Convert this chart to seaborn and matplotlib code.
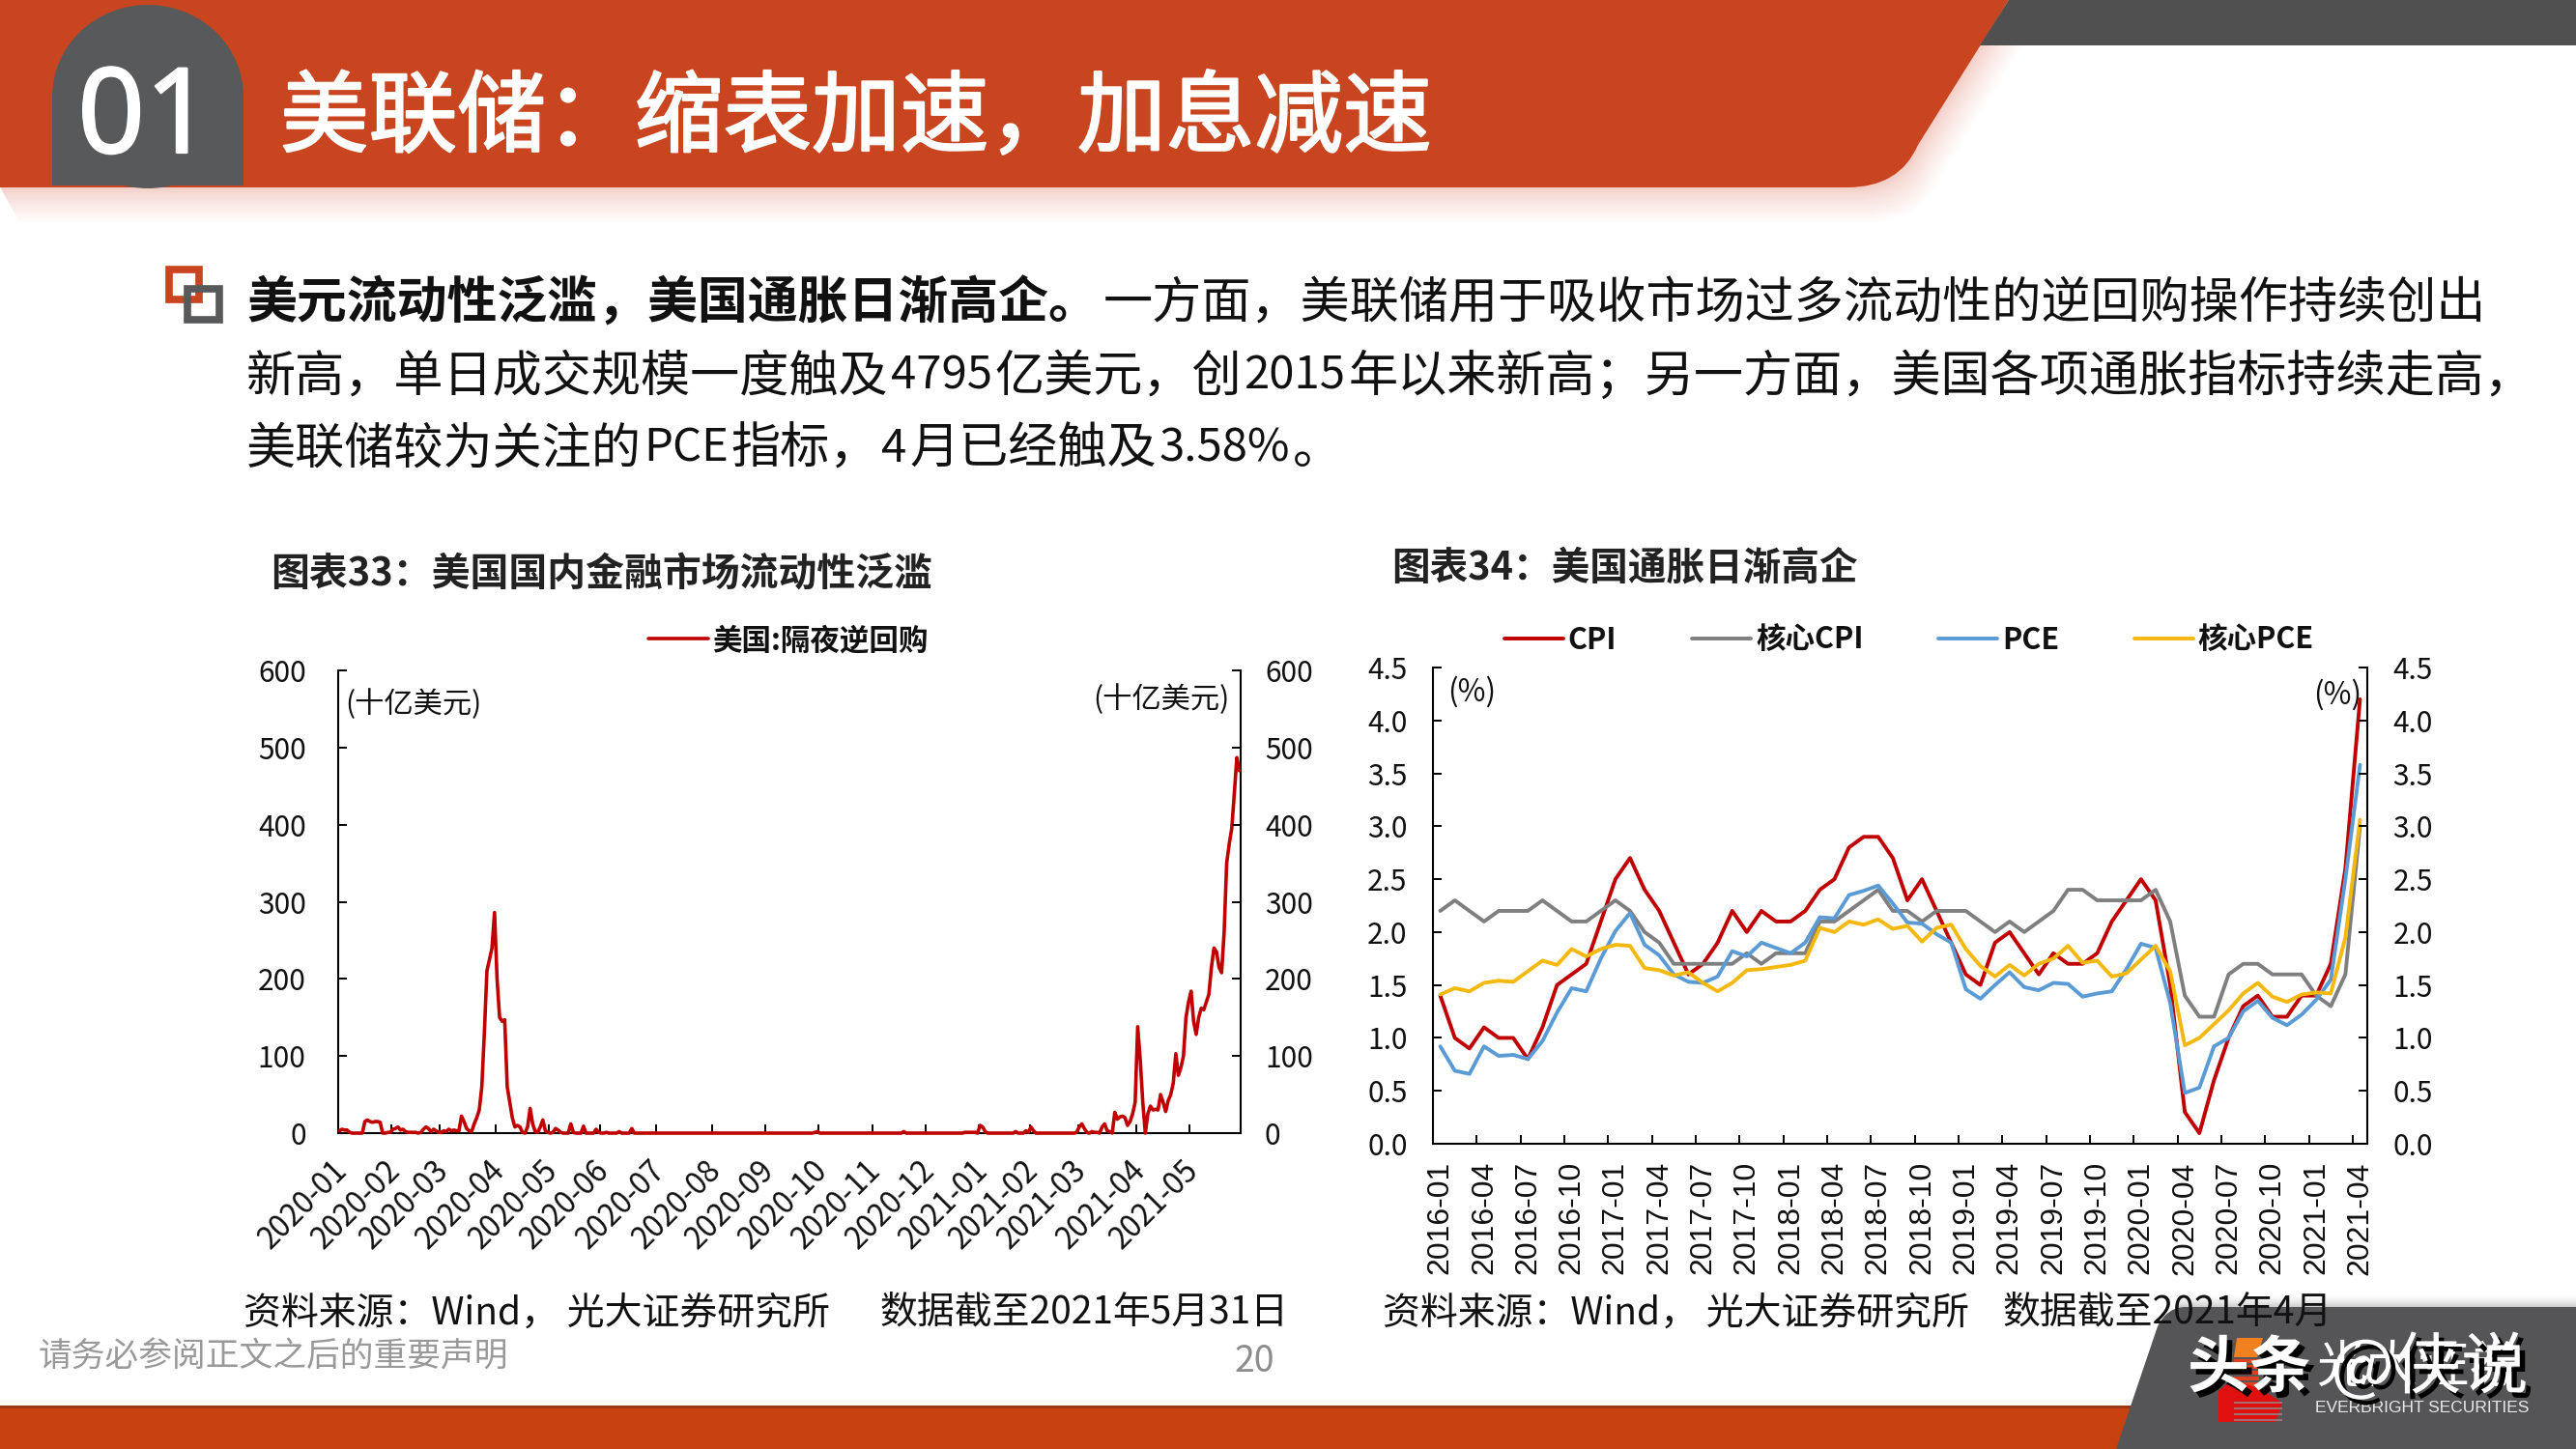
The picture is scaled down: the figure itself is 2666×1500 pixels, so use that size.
import re
import matplotlib
matplotlib.use("Agg")
import matplotlib.pyplot as plt
import seaborn as sns
import pandas as pd
from matplotlib.patches import Rectangle, Ellipse, Polygon, PathPatch
from matplotlib.path import Path
from matplotlib.transforms import ScaledTranslation
import matplotlib.patheffects as pe

# ---------- data ----------
rrp_month_labels = ["2020-01","2020-02","2020-03","2020-04","2020-05","2020-06","2020-07","2020-08","2020-09",
                    "2020-10","2020-11","2020-12","2021-01","2021-02","2021-03","2021-04","2021-05"]
rrp_2020_01 = [3,5,4,4,1,0,0,0,0,0,15,17,15,14,15,15,14,0,0,1,1]
rrp_2020_02 = [5,6,8,4,5,2,1,1,1,1,0,1,5,8,6,2,5,3,1]
rrp_2020_03 = [1,3,2,5,3,4,3,3,22,15,6,3,2,12,20,30,60,130,210,225,240,286]
rrp_2020_04 = [200,150,145,147,60,40,20,8,10,8,1,0,8,32,12,2,1,8,17,3,1]
rrp_2020_05 = [0,1,6,4,1,0,0,0,12,1,0,0,0,9,0,0,0,0,5,1]
rrp_2020_06 = [0,0,1,0,0,0,0,2,0,0,0,0,6,0,0,0,0,0,0,0,0,0]
rrp_2020_07 = [0,0,0,0,0,0,0,0,0,0,0,0,0,0,0,0,0,0,0,0,0,0]
rrp_2020_08 = [0,0,0,0,0,0,0,0,0,0,0,0,0,0,0,0,0,0,0,0,0]
rrp_2020_09 = [0,0,0,0,0,0,0,0,0,0,0,0,0,0,0,0,0,0,0,1,2]
rrp_2020_10 = [0,0,0,0,0,0,0,0,0,0,0,0,0,0,0,0,0,0,0,0,0]
rrp_2020_11 = [0,0,0,0,0,0,0,0,0,0,0,0,2,0,0,0,0,0,0,0,0]
rrp_2020_12 = [0,0,0,0,0,0,0,0,0,0,0,0,0,0,0,1,1,1,1,1,0]
rrp_2021_01 = [10,8,2,0,0,0,0,0,0,0,0,0,0,0,2,0,0,0,3,1]
rrp_2021_02 = [8,3,0,0,0,0,0,0,0,0,0,0,0,0,0,0,0,0,1]
rrp_2021_03 = [8,12,6,1,0,2,1,1,0,8,12,3,2,0,27,18,21,22,20,10,15,25,40]
rrp_2021_04 = [138,95,40,0,25,35,30,31,30,50,40,28,42,50,65,103,75,85,100,150,170]
rrp_2021_05 = [184,145,128,150,162,160,170,180,215,240,235,215,208,260,350,375,395,440,487,470]
rrp_months = [rrp_2020_01,rrp_2020_02,rrp_2020_03,rrp_2020_04,rrp_2020_05,rrp_2020_06,rrp_2020_07,rrp_2020_08,
              rrp_2020_09,rrp_2020_10,rrp_2020_11,rrp_2020_12,rrp_2021_01,rrp_2021_02,rrp_2021_03,rrp_2021_04,rrp_2021_05]

cpi = [1.4,1.0,0.9,1.1,1.0,1.0,0.8,1.1,1.5,1.6,1.7,2.1,
       2.5,2.7,2.4,2.2,1.9,1.6,1.7,1.9,2.2,2.0,2.2,2.1,
       2.1,2.2,2.4,2.5,2.8,2.9,2.9,2.7,2.3,2.5,2.2,1.9,
       1.6,1.5,1.9,2.0,1.8,1.6,1.8,1.7,1.7,1.8,2.1,2.3,
       2.5,2.3,1.5,0.3,0.1,0.6,1.0,1.3,1.4,1.2,1.2,1.4,
       1.4,1.7,2.6,4.2]
core_cpi = [2.2,2.3,2.2,2.1,2.2,2.2,2.2,2.3,2.2,2.1,2.1,2.2,
            2.3,2.2,2.0,1.9,1.7,1.7,1.7,1.7,1.7,1.8,1.7,1.8,
            1.8,1.8,2.1,2.1,2.2,2.3,2.4,2.2,2.2,2.1,2.2,2.2,
            2.2,2.1,2.0,2.1,2.0,2.1,2.2,2.4,2.4,2.3,2.3,2.3,
            2.3,2.4,2.1,1.4,1.2,1.2,1.6,1.7,1.7,1.6,1.6,1.6,
            1.4,1.3,1.6,3.0]
pce = [0.92,0.69,0.66,0.92,0.83,0.84,0.80,0.97,1.24,1.47,1.44,1.75,
       2.01,2.18,1.88,1.78,1.60,1.53,1.52,1.58,1.82,1.77,1.90,1.85,
       1.80,1.90,2.14,2.13,2.35,2.39,2.44,2.27,2.09,2.08,1.98,1.90,
       1.46,1.37,1.50,1.62,1.48,1.45,1.52,1.51,1.39,1.42,1.44,1.65,
       1.89,1.85,1.33,0.48,0.53,0.92,1.00,1.25,1.35,1.19,1.12,1.22,
       1.36,1.55,2.50,3.58]
core_pce = [1.41,1.47,1.44,1.52,1.54,1.53,1.63,1.73,1.69,1.84,1.77,1.84,
            1.88,1.87,1.66,1.64,1.59,1.62,1.52,1.44,1.52,1.64,1.65,1.67,
            1.69,1.73,2.04,2.00,2.10,2.07,2.12,2.03,2.06,1.91,2.04,2.07,
            1.84,1.68,1.58,1.69,1.59,1.70,1.75,1.87,1.71,1.73,1.58,1.61,
            1.74,1.87,1.63,0.93,1.00,1.13,1.26,1.42,1.52,1.39,1.34,1.41,
            1.43,1.42,1.95,3.06]
inflation_start = "2016-01"
inflation_end = "2021-04"
series_names = ["CPI","核心CPI","PCE","核心PCE"]
series_colors = ["#C00000","#7F7F7F","#5B9BD5","#F5B80F"]

body_bold = "美元流动性泛滥，美国通胀日渐高企。"
body_line1 = "一方面，美联储用于吸收市场过多流动性的逆回购操作持续创出"
body_line2 = "新高，单日成交规模一度触及4795亿美元，创2015年以来新高；另一方面，美国各项通胀指标持续走高，"
body_line3 = "美联储较为关注的PCE指标，4月已经触及3.58%。"

# ---------- theme ----------
sns.set_theme(style="white")
plt.rcParams["font.family"] = ["Noto Sans CJK SC", "DejaVu Sans"]
plt.rcParams["axes.unicode_minus"] = False

W, H = 2666, 1500
fig = plt.figure(figsize=(W/100, H/100), dpi=100, facecolor="white")
renderer = fig.canvas.get_renderer()

page = fig.add_axes([0, 0, 1, 1], zorder=0)
page.set_xlim(0, W); page.set_ylim(H, 0); page.axis("off")

ORANGE = "#C8451F"
DARK = "#58595B"

# header band with its soft shadow
band_v = [(0,0),(2079,0),(1985,150),(1966,194),(1912,194),(0,194),(0,0)]
band_c = [Path.MOVETO,Path.LINETO,Path.LINETO,Path.CURVE3,Path.CURVE3,Path.LINETO,Path.CLOSEPOLY]
for k in range(38, 0, -1):
    t = (k/38)**0.8
    col = (0.95+0.05*t, 0.80+0.20*t, 0.77+0.23*t)
    off = [(x+k*0.55, y+k) for x, y in band_v]
    page.add_patch(PathPatch(Path(off, band_c), fc=col, ec="none"))
page.add_patch(PathPatch(Path(band_v, band_c), fc=ORANGE, ec="none"))
page.add_patch(Polygon([(2079,0),(W,0),(W,47),(2049,47)], fc="#505050", ec="none"))
# number tab
page.add_patch(Ellipse((153,100), 198, 190, fc=DARK, ec="none"))
page.add_patch(Rectangle((54,100), 198, 92, fc=DARK, ec="none"))
stroke_w = [pe.withStroke(linewidth=1.6, foreground="white")]
page.text(150, 126, "01", color="white", fontsize=88, family=["Noto Sans","DejaVu Sans"], ha="center", va="center", path_effects=stroke_w)
page.text(290, 124, "美联储：缩表加速，加息减速", color="white", fontsize=66, ha="left", va="center", path_effects=stroke_w)

# bullet
page.add_patch(Rectangle((174.5,278.5), 31, 31, fc="none", ec=ORANGE, lw=5.5))
page.add_patch(Rectangle((193.5,298.5), 33, 32, fc="none", ec=DARK, lw=5.5))

def run_text(x, y, s, size=37, latin_size=34):
    """Draw a line, its Latin and digit runs a little smaller, as the slide's font does."""
    for part in re.findall(r"[A-Za-z0-9.%]+|[^A-Za-z0-9.%]+", s):
        latin = re.fullmatch(r"[A-Za-z0-9.%]+", part) is not None
        t = page.text(x, y, part, fontsize=latin_size if latin else size, color="#111111", ha="left", va="center_baseline")
        x += t.get_window_extent(renderer).width + (3 if latin else 2)

# body
page.text(255, 309, body_bold, fontsize=37.4, weight="bold", color="#111111", ha="left", va="center_baseline")
run_text(1142, 309, body_line1, size=36.8)
run_text(255, 384, body_line2, size=36.8)
run_text(255, 459, body_line3, size=36.8)

# chart headings
page.text(280, 595, "图表33：美国国内金融市场流动性泛滥", fontsize=28.7, weight="bold", color="#222222", ha="left", va="center")
page.text(1440, 588, "图表34：美国通胀日渐高企", fontsize=28.5, weight="bold", color="#222222", ha="left", va="center")

# footer
page.add_patch(Rectangle((0,1455), 2300, 45, fc="#C8420F", ec="none"))
page.add_patch(Rectangle((0,1455), 2300, 3, fc="#9C3A18", ec="none"))
for k in range(16):
    g = 1-0.22*(k/16)**2
    page.add_patch(Rectangle((2252,1337+k), W-2252, 1.5, fc=(g,g,g), ec="none"))
verts2 = [(2190,1500),(2233,1373),(2243,1353),(2262,1353),(W,1353),(W,1500),(2190,1500)]
codes2 = [Path.MOVETO,Path.LINETO,Path.CURVE3,Path.CURVE3,Path.LINETO,Path.LINETO,Path.CLOSEPOLY]
page.add_patch(PathPatch(Path(verts2,codes2), fc="#555557", ec="none"))
page.text(40, 1405, "请务必参阅正文之后的重要声明", fontsize=25, color="#999999", ha="left", va="center")
page.text(1298, 1410, "20", fontsize=27, color="#8C8C8C", ha="center", va="center")

# logo and watermark
page.add_patch(Polygon([(2315,1385),(2342,1385),(2336,1405),(2312,1405)], fc="#F08020", ec="none"))
for k in range(5):
    page.add_patch(Rectangle((2312,1407+k*6), 26, 4, fc="#E04020", ec="none"))
page.add_patch(Polygon([(2296,1472),(2296,1440),(2310,1428),(2340,1438),(2362,1452),(2355,1472)], fc="#E01010", ec="none"))
for k in range(4):
    page.add_patch(Rectangle((2312,1451+k*6), 50, 1.6, fc="#A07070", ec="none"))
page.text(2397, 1415, "光大证券", fontsize=38, color="white", ha="left", va="center")
page.text(2396, 1458, "EVERBRIGHT SECURITIES", fontsize=12.5, color="#E8E8E8", ha="left", va="center", family=["Liberation Sans","DejaVu Sans"])
shadow = [pe.withSimplePatchShadow(offset=(4,-4), shadow_rgbFace="black", alpha=1.0)]
page.text(2264, 1417, "头条", fontsize=46, weight="bold", color="white", ha="left", va="center", path_effects=shadow)
page.text(2412, 1417, "@侠说", fontsize=50, color="white", ha="left", va="center", path_effects=shadow)

# source lines
for x0, s in [(252, "资料来源：Wind， 光大证券研究所"), (910, "数据截至2021年5月31日"),
              (1431, "资料来源：Wind， 光大证券研究所"), (2072, "数据截至2021年4月")]:
    page.text(x0, 1360, s, fontsize=28, color="#111111", ha="left", va="center", zorder=6)

def make_axes(l, t, r, b):
    return fig.add_axes([l/W, 1-b/H, (r-l)/W, (b-t)/H], zorder=2, facecolor="none")

def style_axes(ax, pad_y):
    ax.spines["top"].set_visible(False)
    for s in ["left","right","bottom"]:
        ax.spines[s].set_visible(True)
        ax.spines[s].set_linewidth(1.5)
        ax.spines[s].set_color("black")
    ax.tick_params(axis="y", direction="in", length=6.5, width=1.4, labelsize=21.5, pad=pad_y, left=True, color="black", labelcolor="#111111")

# ---------- left chart ----------
ax1 = make_axes(350, 694, 1284, 1173)
rrp_values = [v for m in rrp_months for v in m]
month_lengths = [len(m) for m in rrp_months]
rrp_df = pd.DataFrame({"day": range(len(rrp_values)), "value": rrp_values})
rrp_df["day"] = rrp_df["day"] + 0.5
sns.lineplot(data=rrp_df, x="day", y="value", ax=ax1, color="#C00000", lw=2.6, label="美国:隔夜逆回购", errorbar=None, clip_on=False, zorder=3)
ax1.set_xlim(0, len(rrp_values)); ax1.set_ylim(0, 600)
ax1.set_yticks(range(0, 601, 100))
starts = [sum(month_lengths[:i]) for i in range(len(month_lengths))]
ax1.set_xticks(starts)
ax1.set_xticklabels(rrp_month_labels, rotation=45, ha="right", rotation_mode="anchor", va="top", fontsize=22.5, color="#111111")
ax1.tick_params(axis="x", direction="in", length=6.5, width=1.4, pad=16, bottom=True, color="black")
ax1.set_xlabel(""); ax1.set_ylabel("")
style_axes(ax1, 24)
for lab in ax1.get_xticklabels():
    lab.set_transform(lab.get_transform() + ScaledTranslation(-7/100, 0, fig.dpi_scale_trans))
ax1r = ax1.twinx()
ax1r.set_ylim(0, 600); ax1r.set_yticks(range(0, 601, 100))
ax1r.grid(False); ax1.grid(False)
ax1r.tick_params(axis="y", direction="in", length=6.5, width=1.4, labelsize=21.5, pad=18, right=True, color="black", labelcolor="#111111")
ax1r.patch.set_visible(False)
for s in ax1r.spines.values(): s.set_visible(False)
ax1.legend(loc="center", bbox_to_anchor=(816/W, 1-663/H), bbox_transform=fig.transFigure, frameon=False,
           prop={"size":22, "weight":"bold", "family":["Noto Sans CJK SC","DejaVu Sans"]}, handlelength=2, handletextpad=0.15, labelcolor="#111111")
page.text(357, 729, "(十亿美元)", fontsize=21.8, color="#111111", ha="left", va="center", zorder=6)
page.text(1272, 724, "(十亿美元)", fontsize=21.8, color="#111111", ha="right", va="center", zorder=6)

# ---------- right chart ----------
ax2 = make_axes(1483, 691, 2450, 1184)
months = pd.period_range(inflation_start, inflation_end, freq="M").strftime("%Y-%m").tolist()
infl_df = pd.DataFrame({"pos": [i+0.5 for i in range(len(months))], "CPI": cpi, "核心CPI": core_cpi, "PCE": pce, "核心PCE": core_pce})
long_df = infl_df.melt(id_vars="pos", value_vars=series_names, var_name="series", value_name="value")
sns.lineplot(data=long_df, x="pos", y="value", hue="series", hue_order=series_names, palette=series_colors, ax=ax2, lw=2.8, errorbar=None)
ax2.set_xlim(0, len(months)); ax2.set_ylim(0, 4.5)
ax2.set_yticks([i*0.5 for i in range(10)])
ax2.set_yticklabels([f"{i*0.5:.1f}" for i in range(10)])
ax2.set_xticks(range(0, len(months), 3))
ax2.set_xticklabels([])
ax2.set_xticks([i+0.5 for i in range(0, len(months), 3)], minor=True)
ax2.set_xticklabels(months[::3], minor=True, rotation=90, ha="center", va="top", fontsize=23, color="#111111", family=["Liberation Sans","DejaVu Sans"])
ax2.tick_params(axis="x", which="major", direction="in", length=6.5, width=1.4, bottom=True, color="black")
ax2.tick_params(axis="x", which="minor", length=0, pad=13, bottom=True)
ax2.set_xlabel(""); ax2.set_ylabel("")
style_axes(ax2, 19)
ax2r = ax2.twinx()
ax2r.set_ylim(0, 4.5); ax2r.set_yticks([i*0.5 for i in range(10)])
ax2r.set_yticklabels([f"{i*0.5:.1f}" for i in range(10)])
ax2r.grid(False); ax2.grid(False)
ax2r.tick_params(axis="y", direction="in", length=6.5, width=1.4, labelsize=21.5, pad=19, right=True, color="black", labelcolor="#111111")
ax2r.patch.set_visible(False)
for s in ax2r.spines.values(): s.set_visible(False)
ax2.legend(loc="center", bbox_to_anchor=(1976/W, 1-663/H), bbox_transform=fig.transFigure, frameon=False, ncol=4,
           prop={"size":22, "weight":"bold", "family":["Noto Sans CJK SC","DejaVu Sans"]}, handlelength=2, handletextpad=0.15, columnspacing=2.55, labelcolor="#111111", title=None)
page.text(1523, 716, "(%)", fontsize=22.5, color="#111111", ha="center", va="center", zorder=6)
page.text(2419, 719, "(%)", fontsize=22.5, color="#111111", ha="center", va="center", zorder=6)

fig.savefig("out.png", dpi=100, facecolor="white")
